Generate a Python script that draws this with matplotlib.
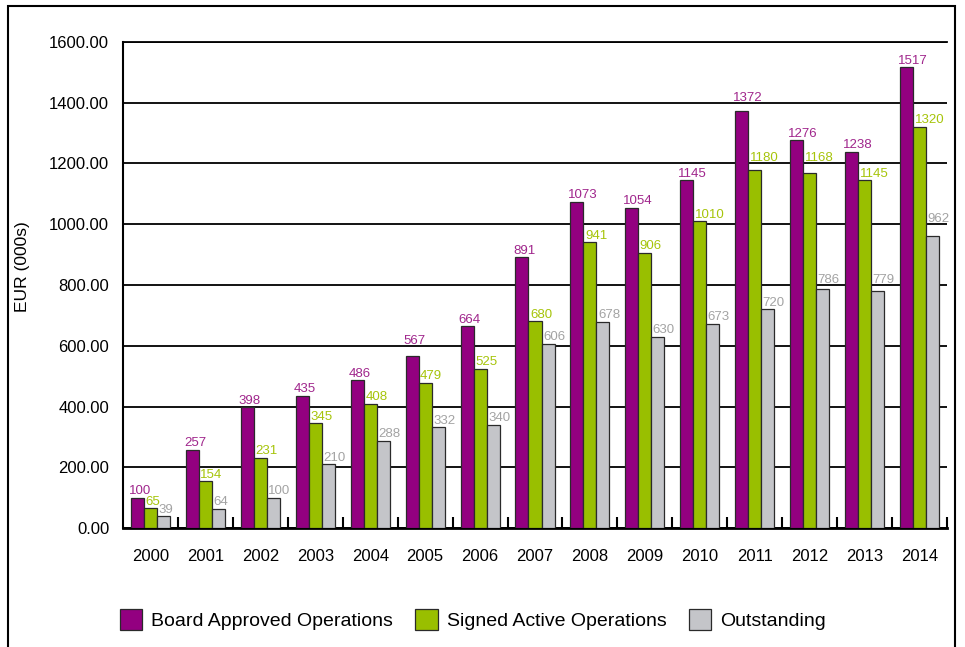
import numpy as np
import matplotlib
matplotlib.use("Agg")
import matplotlib.pyplot as plt
from matplotlib.patches import Rectangle

years = ["2000", "2001", "2002", "2003", "2004", "2005", "2006", "2007",
         "2008", "2009", "2010", "2011", "2012", "2013", "2014"]
board_approved = [100, 257, 398, 435, 486, 567, 664, 891, 1073, 1054, 1145, 1372, 1276, 1238, 1517]
signed_active = [65, 154, 231, 345, 408, 479, 525, 680, 941, 906, 1010, 1180, 1168, 1145, 1320]
outstanding = [39, 64, 100, 210, 288, 332, 340, 606, 678, 630, 673, 720, 786, 779, 962]

series = [
    ("Board Approved Operations", board_approved, "#930080", "#a0268c", -2),
    ("Signed Active Operations", signed_active, "#99bf00", "#a6c40a", 1.5),
    ("Outstanding", outstanding, "#c4c5c9", "#a3a3a3", 1.5),
]

plt.rcParams["font.family"] = ["Liberation Sans", "DejaVu Sans"]

grid_step = 200


def label_baseline(v):
    # sit just above the bar, or hop over a gridline that would cut the text
    base = v + 12
    for g in range(0, 1601, grid_step):
        if v - 1 < g < base + 34:
            return g + 7
    return base


fig = plt.figure(figsize=(9.65, 6.47), dpi=100)
ax = fig.add_axes([0.1275, 0.1839, 0.8538, 0.7512])

x = np.arange(len(years))
width = 0.237
for i, (name, vals, color, text_color, dx) in enumerate(series):
    pos = x + (i - 1) * width
    ax.bar(pos, vals, width, color=color, edgecolor="#2a2a2a", linewidth=0.9,
           label=name, zorder=3)
    for px, v in zip(pos, vals):
        ax.annotate(str(v), (px - width / 2, label_baseline(v)), xytext=(dx * 0.72, 0),
                    textcoords="offset points", ha="left", va="baseline",
                    fontsize=9.5, color=text_color, zorder=6)

ax.set_xlim(-0.5, len(years) - 0.5)
ax.set_ylim(0, 1600)
ax.set_yticks(np.arange(0, 1601, grid_step))
ax.set_yticklabels([f"{v:.2f}" for v in range(0, 1601, grid_step)])
ax.set_xticks(x)
ax.set_xticklabels(years)
ax.set_xticks(np.arange(0.5, len(years), 1), minor=True)

ax.tick_params(axis="y", length=0, pad=10, labelsize=12)
ax.tick_params(axis="x", which="major", length=0, pad=15, labelsize=12)
ax.tick_params(axis="x", which="minor", direction="in", length=8, width=1.5, color="black")

ax.grid(axis="y", color="black", linewidth=1.3, zorder=0)
ax.set_axisbelow(True)
ax.spines["right"].set_visible(False)
ax.spines["top"].set_linewidth(1.3)
ax.spines["left"].set_linewidth(1.5)
ax.spines["bottom"].set_linewidth(2)

ax.set_ylabel("EUR (000s)", fontsize=12.5)
ax.yaxis.set_label_coords(-0.113, 0.537)

fig.legend(loc="center", bbox_to_anchor=(0.49, 0.042), ncol=3, frameon=False,
           fontsize=14, handlelength=1.15, handleheight=1.25, handletextpad=0.45,
           columnspacing=1.15)

# thin frame around the whole figure, open at the bottom
fig.patches.append(Rectangle((0.0083, -0.05), 0.9813, 1.0407, transform=fig.transFigure,
                             fill=False, edgecolor="black", linewidth=1.5))

fig.savefig("out.png", dpi=100)
